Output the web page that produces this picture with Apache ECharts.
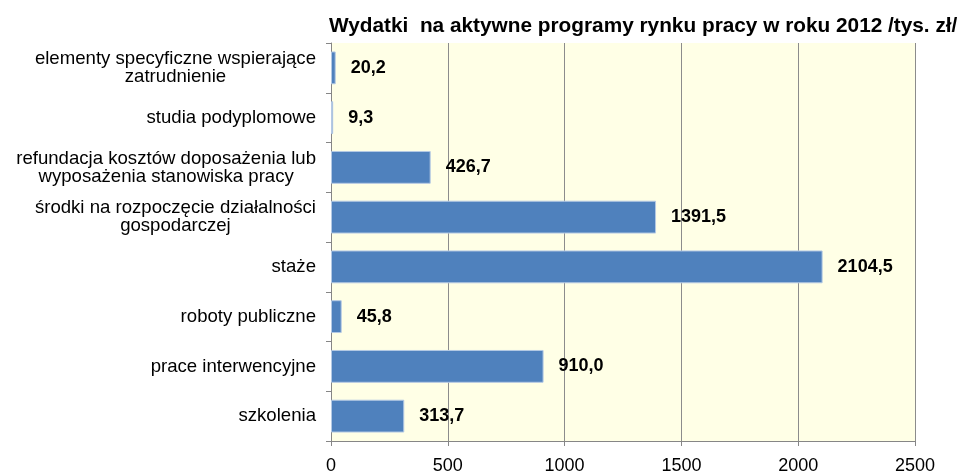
<!DOCTYPE html>
<html><head><meta charset="utf-8">
<script src="https://cdn.jsdelivr.net/npm/echarts@6/dist/echarts.min.js"></script>
<style>html,body{margin:0;padding:0;background:#fff}#c{width:974px;height:473px}</style>
</head><body><div id="c"></div>
<script>
const titleText = 'Wydatki  na aktywne programy rynku pracy w roku 2012 /tys. zł/';
const categories = [
  'elementy specyficzne wspierające\nzatrudnienie',
  'studia podyplomowe',
  'refundacja kosztów doposażenia lub\nwyposażenia stanowiska pracy',
  'środki na rozpoczęcie działalności\ngospodarczej',
  'staże',
  'roboty publiczne',
  'prace interwencyjne',
  'szkolenia'
];
const values = [20.2, 9.3, 426.7, 1391.5, 2104.5, 45.8, 910.0, 313.7];
const xTicks = [0, 500, 1000, 1500, 2000, 2500];

const chart = echarts.init(document.getElementById('c'), null, {renderer: 'canvas'});
const FONT = 'Liberation Sans, Arial, sans-serif';
chart.setOption({
  animation: false,
  title: {
    text: titleText,
    left: 324, top: 11,
    textStyle: {fontFamily: FONT, fontSize: 20.8, fontWeight: 'bold', color: '#000'}
  },
  grid: {left: 331, right: 59, top: 43, bottom: 32, containLabel: false,
         outerBoundsMode: 'none',
         show: true, backgroundColor: '#FFFFE6', borderWidth: 0},
  xAxis: {
    type: 'value', min: xTicks[0], max: xTicks[xTicks.length - 1], interval: 500,
    axisLine: {show: true, lineStyle: {color: '#868686', width: 1}},
    axisTick: {show: true, length: 5, lineStyle: {color: '#868686'}},
    splitLine: {show: true, lineStyle: {color: '#8c8c8c', width: 1}},
    axisLabel: {fontFamily: FONT, fontSize: 18, color: '#000', margin: 16,
                formatter: v => String(v)}
  },
  yAxis: {
    type: 'category', data: categories, inverse: true,
    axisLine: {show: true, lineStyle: {color: '#868686', width: 1}},
    axisTick: {show: true, length: 5, lineStyle: {color: '#868686'}},
    axisLabel: {
      fontFamily: FONT, fontSize: 18.6, color: '#000', margin: 15, lineHeight: 18,
      formatter: function (v) { return v.split('\n').map(s => '{c|' + s + '}').join('\n'); },
      rich: {c: {align: 'center', fontFamily: FONT, fontSize: 18.6, color: '#000', lineHeight: 18}}
    }
  },
  series: [{
    type: 'bar', data: values, barCategoryGap: '34%',
    itemStyle: {color: '#4F81BD', borderColor: '#b4c9e4', borderWidth: 1},
    label: {
      show: true, position: 'right', distance: 15,
      fontFamily: FONT, fontSize: 18, fontWeight: 'bold', color: '#000',
      formatter: p => p.value.toFixed(1).replace('.', ',')
    }
  }]
});
</script></body></html>
